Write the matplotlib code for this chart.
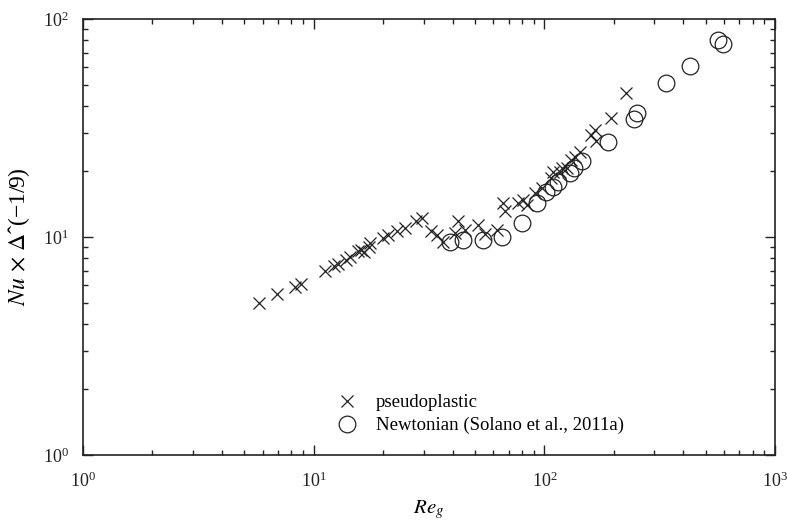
import matplotlib
matplotlib.use("Agg")
import matplotlib.pyplot as plt
from matplotlib.ticker import LogLocator, NullFormatter

plt.rcParams["font.family"] = ["Liberation Serif", "DejaVu Serif"]
plt.rcParams["mathtext.fontset"] = "stix"

# Pseudoplastic fluid results
pseudo_re = [5.8, 6.9, 8.3, 8.8, 11.2, 12.3, 12.7, 13.8, 14.4, 15.6, 16.1, 16.5,
             17.3, 17.5, 20.0, 21.0, 23.0, 24.9, 27.9, 29.4, 32.4, 34.1, 36.5,
             41.0, 42.4, 45.3, 51.7, 55.3, 62.5, 66.4, 67.5, 77.1, 81.1, 83.8,
             91.0, 97.3, 107, 109, 117, 119, 125, 131, 136, 143, 160, 166, 168,
             194, 227]
pseudo_nu = [5.0, 5.45, 5.9, 6.1, 7.0, 7.35, 7.55, 7.85, 8.1, 8.65, 8.7, 8.5,
             9.0, 9.35, 9.9, 10.2, 10.7, 11.0, 11.9, 12.2, 10.7, 10.2, 9.5,
             10.4, 11.9, 10.8, 11.4, 10.3, 10.8, 14.3, 13.2, 14.3, 14.8, 14.0,
             15.9, 16.7, 18.6, 19.9, 19.9, 20.7, 20.7, 22.6, 23.4, 24.6, 29.4,
             31.0, 27.5, 35.0, 45.9]

# Newtonian reference data (Solano et al., 2011a)
newt_re = [39.0, 44.5, 54.3, 65.3, 79.7, 93, 102, 108.7, 114.9, 129, 134, 145,
           189, 244, 251, 337, 428, 567, 597]
newt_nu = [9.5, 9.7, 9.7, 10.0, 11.6, 14.3, 16.1, 17.0, 17.9, 19.6, 20.7, 22.2,
           27.4, 34.7, 36.9, 51.0, 61.1, 80.1, 76.8]

fig = plt.figure(figsize=(7.87, 5.23), dpi=100)
ax = fig.add_axes([0.1055, 0.130, 0.8793, 0.8337])

ax.plot(pseudo_re, pseudo_nu, linestyle="none", marker="x", markersize=9,
        markeredgewidth=0.9, color="#222222", label="pseudoplastic")
ax.plot(newt_re, newt_nu, linestyle="none", marker="o", markersize=12,
        markerfacecolor="none", markeredgewidth=0.9, markeredgecolor="#222222",
        label="Newtonian (Solano et al., 2011a)")

ax.set_xscale("log")
ax.set_yscale("log")
ax.set_xlim(1, 1000)
ax.set_ylim(1, 100)

for axis in (ax.xaxis, ax.yaxis):
    axis.set_major_locator(LogLocator(base=10, numticks=10))
    axis.set_minor_locator(LogLocator(base=10, subs=range(2, 10), numticks=10))
    axis.set_minor_formatter(NullFormatter())

ax.tick_params(which="both", direction="in", top=True, right=True,
               labelsize=13, width=1.0, colors="#222222")
ax.tick_params(axis="x", which="major", length=7, pad=12)
ax.tick_params(axis="y", which="major", length=7, pad=10)
ax.tick_params(which="minor", length=3.5)
for s in ax.spines.values():
    s.set_linewidth(1.2)
    s.set_color("#222222")

ax.set_xlabel(r"$Re_g$", fontsize=15, labelpad=5)
ax.set_ylabel(r"$Nu\,\times\,\Delta$ˆ(−1/9)", fontsize=17, labelpad=8)

ax.legend(loc="lower left", bbox_to_anchor=(0.355, 0.03), frameon=False,
          fontsize=13.5, handlelength=1.2, handletextpad=0.9, labelspacing=0.3,
          borderaxespad=0)

fig.savefig("out.png", dpi=100)
